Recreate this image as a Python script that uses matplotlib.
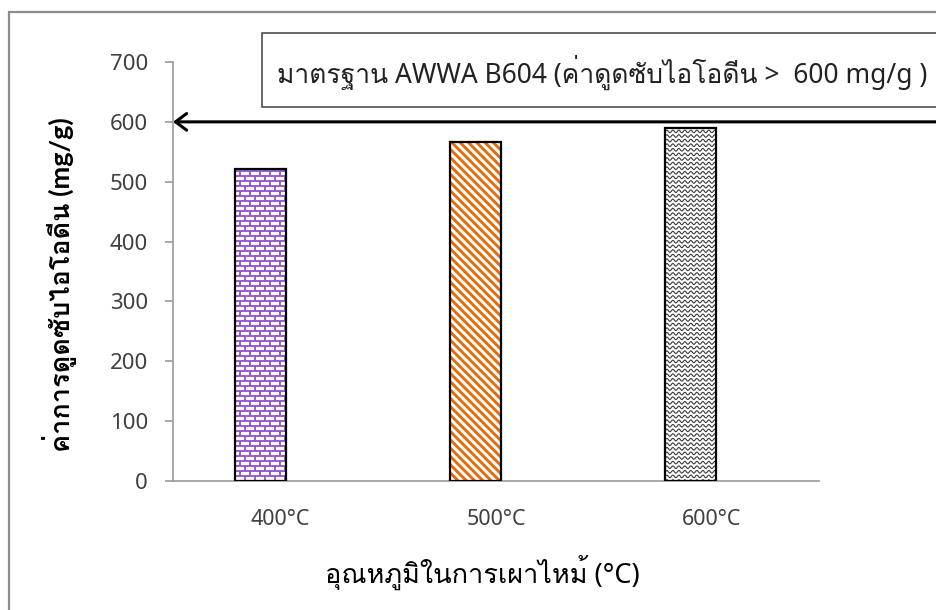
import numpy as np
import matplotlib
matplotlib.use("Agg")
import matplotlib.pyplot as plt
from matplotlib import font_manager
from matplotlib.ft2font import FT2Font
from matplotlib.collections import LineCollection
from matplotlib.patches import Rectangle
from matplotlib.transforms import IdentityTransform

# data
temps = ["400°C", "500°C", "600°C"]
iodine = [521, 566, 589]
standard = 600
yticks = [0, 100, 200, 300, 400, 500, 600, 700]
box_text = "มาตรฐาน AWWA B604 (ค่าดูดซับไอโอดีน >  600 mg/g )"
ylabel = "ค่าการดูดซับไอโอดีน (mg/g)"
xlabel = "อุณหภูมิในการเผาไหม้ (°C)"

# look for any installed font that has Thai glyphs
thai_font = None
for f in font_manager.fontManager.ttflist:
    try:
        if 0x0E21 in FT2Font(f.fname).get_charmap():
            thai_font = f.name
            break
    except Exception:
        pass
extra = ([thai_font] if thai_font else []) + ["DejaVu Sans"]
plt.rcParams["font.family"] = ["Noto Sans"] + extra

W, H = 936, 610
fig = plt.figure(figsize=(W / 100, H / 100), dpi=100)
ax = fig.add_axes([173 / W, 1 - 481 / H, 646 / W, 419 / H])

x = np.arange(len(temps))
xb = x - 0.095
bars = ax.bar(xb, iodine, width=0.237, color="white", linewidth=0, zorder=2)
ax.bar(xb, iodine, width=0.237, fill=False, edgecolor="black", linewidth=1.6, zorder=4)

ax.set_xlim(-0.5, 2.5)
ax.set_ylim(0, 700)
ax.set_yticks(yticks)
ax.set_xticks(x)
ax.set_xticklabels(temps)
for s in ["top", "right"]:
    ax.spines[s].set_visible(False)
for s in ["left", "bottom"]:
    ax.spines[s].set_color("#9a9a9a")
    ax.spines[s].set_linewidth(1.2)
ax.tick_params(axis="y", length=6, width=1.2, color="#9a9a9a", pad=12, labelsize=16, labelcolor="#404040")
ax.tick_params(axis="x", length=0, pad=20, labelsize=15.5, labelcolor="#404040")


# fill patterns, built in pixel space and clipped to each bar
def bricks(b, h=5.0, w=10.0):
    segs = []
    y, row = b.y0, 0
    while y < b.y1:
        segs.append([(b.x0, y), (b.x1, y)])
        xx = b.x0 - w + (w / 2 if row % 2 else 0)
        while xx < b.x1:
            segs.append([(xx, y), (xx, y + h)])
            xx += w
        y += h
        row += 1
    return segs


def diagonals(b, step=8.3):
    segs = []
    L = b.height + b.width
    xx = b.x0 - b.height
    while xx < b.x1 + step:
        segs.append([(xx, b.y1), (xx + L, b.y1 - L)])
        xx += step
    return segs


def waves(b, h=4.6, period=6.0, amp=1.3):
    segs = []
    xs = np.arange(b.x0 - period, b.x1 + period, 0.5)
    y = b.y0
    while y < b.y1 + h:
        segs.append(np.column_stack([xs, y + amp * np.sin(2 * np.pi * (xs - b.x0) / period)]))
        y += h
    return segs


styles = [(bricks, "#9450CC", 1.3), (diagonals, "#E46C0A", 2.1), (waves, "#3a3a3a", 0.8)]
for bar, (fn, col, lw) in zip(bars, styles):
    bb = bar.get_window_extent()
    lc = LineCollection(fn(bb), colors=col, linewidths=lw, transform=IdentityTransform(), zorder=3)
    ax.add_collection(lc, autolim=False)
    lc.set_clip_box(bb)

# standard line arrow
ax.annotate("", xy=(-0.5, standard), xycoords="data",
            xytext=(1.01, standard), textcoords=("figure fraction", "data"),
            arrowprops=dict(arrowstyle="->,head_length=0.8,head_width=0.6", lw=2.2,
                            color="black", shrinkA=0, shrinkB=0),
            annotation_clip=False, zorder=5)

# outer frame and standard text box
fig.add_artist(Rectangle((9 / W, -0.1), 1.2, 1.1 - 12 / H, transform=fig.transFigure,
                         fill=False, edgecolor="#8c8c8c", linewidth=1.6))
fig.add_artist(Rectangle((262 / W, 1 - 107 / H), 1.0, 74 / H, transform=fig.transFigure,
                         facecolor="white", edgecolor="#404040", linewidth=1.1))
fig.text(277 / W, 1 - 72 / H, box_text, fontsize=19, va="center", ha="left", color="#222222")

fig.text(60 / W, 1 - 285 / H, ylabel, rotation=90, fontsize=19.5, fontweight="bold",
         family=["Lato"] + extra, va="center", ha="center")
fig.text(482 / W, 1 - 572 / H, xlabel, fontsize=19.5, va="center", ha="center")

fig.savefig("out.png", dpi=100)
